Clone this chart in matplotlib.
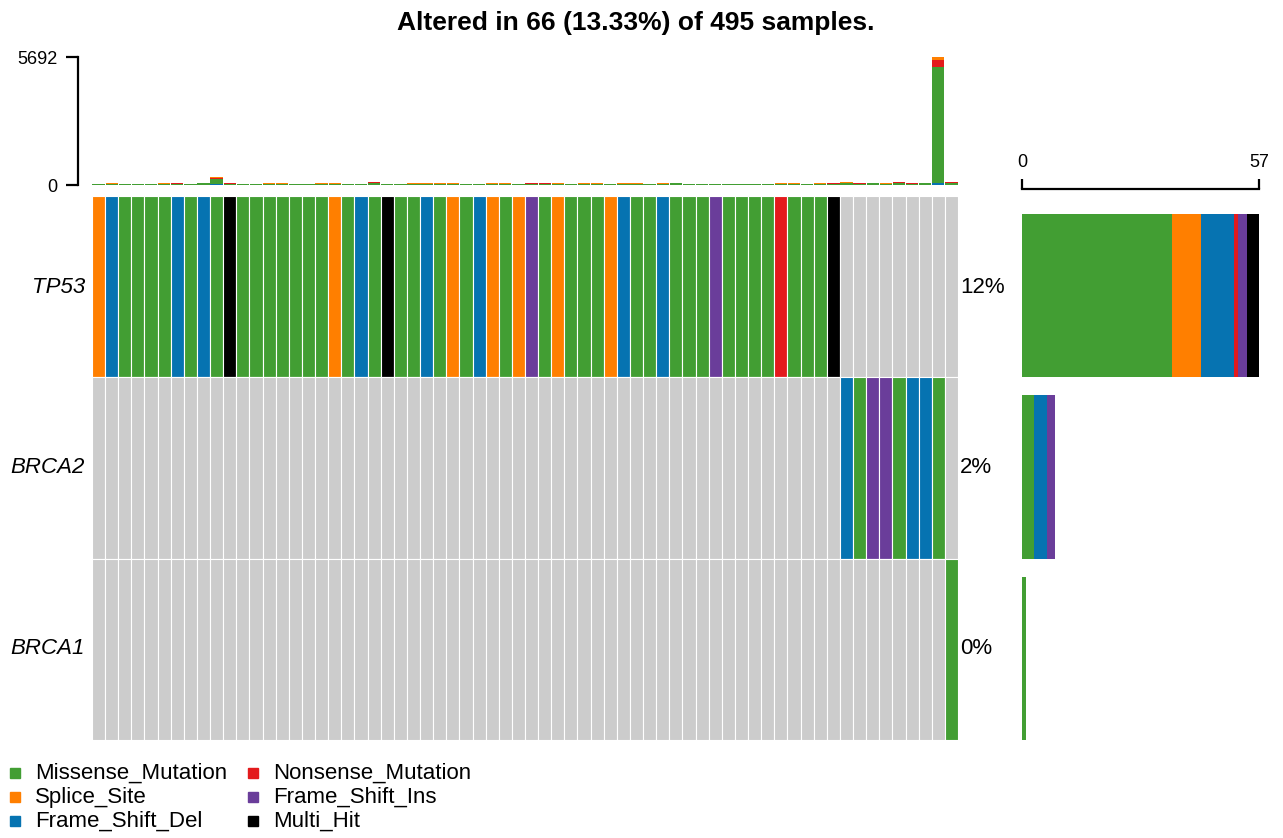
import matplotlib
matplotlib.use("Agg")
import matplotlib.pyplot as plt
import numpy as np
from matplotlib.patches import Rectangle

plt.rcParams['font.family'] = ['Liberation Sans', 'DejaVu Sans']

# ---- data -------------------------------------------------------------
genes = ['TP53', 'BRCA2', 'BRCA1']
pct_labels = ['12%', '2%', '0%']
title = 'Altered in 66 (13.33%) of 495 samples.'

classes = ['Missense_Mutation', 'Splice_Site', 'Frame_Shift_Del',
           'Nonsense_Mutation', 'Frame_Shift_Ins', 'Multi_Hit']
class_cols = {'Missense_Mutation': '#429E33', 'Splice_Site': '#FF7F00',
              'Frame_Shift_Del': '#0673B1', 'Nonsense_Mutation': '#E31A1C',
              'Frame_Shift_Ins': '#6A3D9A', 'Multi_Hit': '#000000'}
codes = {'M': 'Missense_Mutation', 'S': 'Splice_Site', 'D': 'Frame_Shift_Del',
         'N': 'Nonsense_Mutation', 'I': 'Frame_Shift_Ins', 'H': 'Multi_Hit'}
bg_col = '#CCCCCC'

# per sample alteration, '-' = not altered
tp53 = ('S D M M M M D M D M H M M M M M M M S M D M H M M D M S M D S M S I '
        'M S M M M S D M M D M M M I M M M M N M M M H - - - - - - - - -').split()
brca2 = ('- - - - - - - - - - - - - - - - - - - - - - - - - - - - - - - - - - '
         '- - - - - - - - - - - - - - - - - - - - - - - D M I I M D D M -').split()
brca1 = ('- - - - - - - - - - - - - - - - - - - - - - - - - - - - - - - - - - '
         '- - - - - - - - - - - - - - - - - - - - - - - - - - - - - - - M').split()
onco = [tp53, brca2, brca1]
side_max = 57

# top bar: variants per sample by class
tmb_fsdel = [4, 4, 4, 4, 4, 4, 4, 2, 6, 30, 4, 2, 2, 6, 4, 2, 4, 4, 4, 4, 2, 8,
             4, 2, 2, 4, 2, 2, 4, 4, 2, 2, 4, 2, 2, 2, 4, 2, 2, 4, 4, 2, 4, 2, 4,
             2, 4, 4, 4, 4, 4, 4, 2, 2, 2, 4, 4, 6, 4, 6, 2, 8, 4, 6, 80, 8]
tmb_fsins = [2, 2, 2, 2, 2, 2, 2, 2, 2, 4, 2, 2, 2, 2, 2, 2, 2, 2, 2, 2, 2, 2,
             2, 2, 2, 2, 2, 2, 2, 2, 2, 2, 2, 2, 2, 2, 2, 2, 2, 2, 2, 2, 2, 2, 2,
             2, 2, 2, 2, 2, 2, 2, 2, 2, 2, 2, 2, 2, 2, 2, 2, 2, 2, 2, 2, 2]
tmb_missense = [48, 44, 48, 48, 50, 48, 54, 46, 60, 240, 52, 46, 46, 52, 50, 50, 48, 54, 50, 48, 40, 100,
                46, 48, 52, 50, 50, 50, 46, 50, 50, 50, 48, 50, 50, 50, 50, 52, 50, 48, 50, 50, 48, 52, 75,
                46, 48, 48, 48, 50, 48, 48, 50, 50, 46, 52, 55, 90, 56, 60, 50, 100, 56, 80, 5148, 95]
tmb_nonsense = [8, 14, 8, 8, 4, 10, 10, 4, 10, 20, 10, 6, 6, 6, 10, 6, 6, 6, 10, 6, 10, 10,
                4, 8, 8, 8, 12, 12, 4, 4, 8, 8, 6, 14, 14, 8, 6, 8, 8, 6, 8, 8, 8, 8, 10,
                6, 6, 6, 6, 6, 6, 6, 8, 8, 4, 6, 8, 12, 6, 6, 10, 14, 8, 12, 340, 14]
tmb_splice = [4, 4, 4, 4, 2, 6, 10, 6, 6, 40, 6, 4, 4, 4, 4, 4, 6, 4, 4, 6, 2, 10,
              6, 6, 6, 6, 8, 8, 6, 6, 8, 8, 6, 6, 6, 8, 4, 6, 6, 6, 6, 6, 4, 6, 10,
              4, 6, 6, 6, 4, 6, 6, 6, 6, 4, 6, 6, 10, 6, 6, 4, 10, 4, 10, 122, 16]
tmb_stack = [('Frame_Shift_Del', tmb_fsdel), ('Frame_Shift_Ins', tmb_fsins),
             ('Missense_Mutation', tmb_missense), ('Nonsense_Mutation', tmb_nonsense),
             ('Splice_Site', tmb_splice)]

# ---- figure -----------------------------------------------------------
W, H = 1283, 838
fig = plt.figure(figsize=(W / 100, H / 100), dpi=100)


def px_axes(x0, y0, x1, y1):
    return fig.add_axes([x0 / W, 1 - y1 / H, (x1 - x0) / W, (y1 - y0) / H])


n = len(tp53)
x = np.arange(n)

# main oncoplot
ax = px_axes(92, 196, 958, 740)
for r, row in enumerate(onco):
    cols = [bg_col if c == '-' else class_cols[codes[c]] for c in row]
    ax.bar(x, np.ones(n), bottom=r, width=1, color=cols,
           edgecolor='white', linewidth=0.8)
ax.set_xlim(-0.5, n - 0.5)
ax.set_ylim(len(genes), 0)
ax.axis('off')

# top bar plot
axt = px_axes(92, 57, 958, 185)
bottom = np.zeros(n)
for cls, vals in tmb_stack:
    vals = np.array(vals)
    axt.bar(x, vals, bottom=bottom, width=0.94, color=class_cols[cls],
            linewidth=0)
    bottom += vals
ymax = int(bottom.max())
axt.set_xlim(-0.5, n - 0.5)
axt.set_ylim(0, ymax)
for s in ['top', 'right', 'bottom']:
    axt.spines[s].set_visible(False)
axt.spines['left'].set_position(('outward', 10))
axt.spines['left'].set_linewidth(1.6)
axt.set_xticks([])
axt.set_yticks([0, ymax])
axt.tick_params(axis='y', length=9, width=1.6, pad=6, labelsize=13)

# side bar plot
axs = px_axes(1022, 196, 1259, 740)
for r, row in enumerate(onco):
    left = 0
    for cls in classes:
        cnt = sum(1 for c in row if c != '-' and codes[c] == cls)
        if cnt:
            axs.barh(r + 0.1, cnt, left=left, height=0.9, align='edge',
                     color=class_cols[cls], linewidth=0)
            left += cnt
axs.set_xlim(0, side_max)
axs.set_ylim(len(genes), 0)
for s in ['bottom', 'left', 'right']:
    axs.spines[s].set_visible(False)
axs.spines['top'].set_position(('outward', 5))
axs.spines['top'].set_linewidth(1.6)
axs.xaxis.tick_top()
axs.set_xticks([0, side_max])
axs.set_yticks([])
axs.tick_params(axis='x', length=7, width=1.6, pad=6, labelsize=13)

# overlay for labels and legend (pixel coordinates)
ov = fig.add_axes([0, 0, 1, 1])
ov.set_xlim(0, W)
ov.set_ylim(H, 0)
ov.axis('off')
ov.patch.set_alpha(0)

ov.text(636, 23, title, ha='center', va='center', fontsize=19, fontweight='bold')
row_c = [287, 467, 648]
for g, p, yc in zip(genes, pct_labels, row_c):
    ov.text(85, yc, g, ha='right', va='center', fontsize=16, style='italic')
    ov.text(960, yc, p, ha='left', va='center', fontsize=16)

leg_x = [15, 253]
leg_y = [773, 797, 821]
for i, cls in enumerate(classes):
    lx = leg_x[i // 3]
    ly = leg_y[i % 3]
    ov.add_patch(Rectangle((lx - 5, ly - 5), 10, 10, color=class_cols[cls]))
    ov.text(lx + 20, ly, cls, ha='left', va='center', fontsize=16)

fig.savefig('out.png', dpi=100)
